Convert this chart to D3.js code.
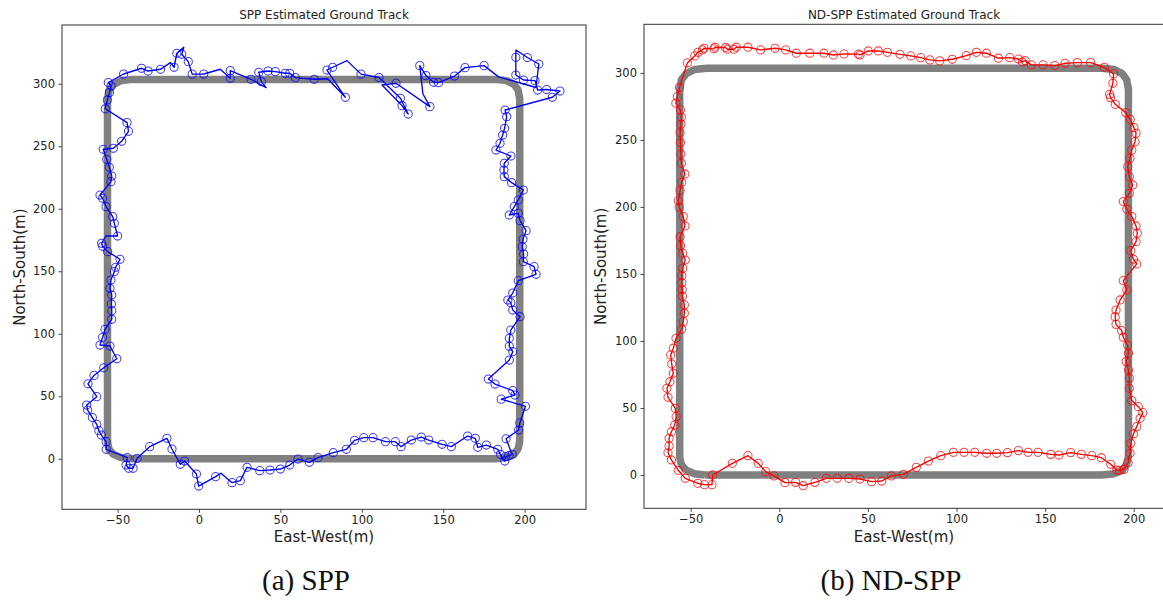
<!DOCTYPE html>
<html>
<head>
<meta charset="utf-8">
<script src="https://cdn.jsdelivr.net/npm/d3@7"></script>
<style>
  html, body { margin: 0; padding: 0; background: #fff; }
  svg { display: block; }
</style>
</head>
<body>
<script>
// ---------------- DATA ----------------
const xTicks = [-50, 0, 50, 100, 150, 200];
const yTicks = [0, 50, 100, 150, 200, 250, 300];

const titles = ["SPP Estimated Ground Track", "ND-SPP Estimated Ground Track"];
const captions = ["(a) SPP", "(b) ND-SPP"];
const xLabel = "East-West(m)";
const yLabel = "North-South(m)";

// reference (true) ground track, [east, north]
const truthTrack = [
  [-42, 0], [182, 0], [189, 1], [193.5, 3.5], [196, 8], [197, 14],
  [197, 288], [196, 295], [193.5, 299.5], [189, 302.5], [182, 303.5],
  [-41, 303.5], [-48, 302.5], [-52.5, 299.5], [-55.2, 295], [-56.2, 288],
  [-56.2, 13], [-55.2, 7.5], [-52.5, 3.5], [-48, 1], [-42, 0]
];

// SPP estimated track, [east, north, marker(1/0)]
const sppTrack = [
  [-44,0.9,1],[-44.8,-5,1],[-43.2,-7.6,1],[-40.5,-7.6,1],[-38,0.4,1],[-30.3,9.7,1],[-19.7,16.4,1],
  [-16.6,7.8,1],[-11.5,-4.4,1],[-8.8,-1.8,1],[-1.6,-12.2,1],[-0.2,-21.8,1],[10.2,-14.3,1],[13.5,-11.5,0],
  [20.3,-19.1,1],[25.4,-17.5,1],[29.5,-6.8,1],[37.3,-9.5,1],[43.6,-9,1],[50,-8.2,1],[55.7,-5,1],
  [60.8,-0.2,1],[67.8,-2.8,1],[73.1,0.9,1],[82.5,4.9,1],[90.5,7.6,1],[95.6,14.8,1],[101.2,16.9,1],
  [106.9,16.9,1],[114.5,13.7,1],[120.6,13.7,1],[124.1,9.7,1],[130.4,15,1],[136.5,17.4,1],[141.1,15,1],
  [149.3,11.6,1],[155,9.7,1],[165,18.2,1],[169.7,16.4,1],[171.2,9.2,1],[176.5,11,1],[183.5,7.6,1],
  [185.1,3.6,1],[187.8,-1.8,1],[188.2,1.7,1],[190.5,2.5,1],[192.3,3.6,1],[188.6,16,1],[196.3,23,1],
  [197,28.7,1],[200.5,42,1],[185.6,47.7,1],[194.1,51,1],[192.7,54.5,1],[181.8,59.8,1],[177.7,63.8,1],
  [190.6,79,1],[192.7,85.7,1],[190.6,90,1],[190.6,96.4,1],[191.5,103,1],[197.2,113.7,1],[192.7,119,1],
  [191.5,124.9,1],[189.7,127,1],[192.7,132.6,1],[196.1,142.5,1],[207,147.6,1],[205.8,153.7,1],
  [199.2,157.7,1],[199.4,163.8,1],[198.5,169.7,1],[199,175.6,1],[200.9,182.5,1],[197.2,190.5,1],
  [196.1,196.4,1],[190.6,195,1],[193.7,201.7,1],[196.1,207,1],[199.2,215,1],[192,220.9,1],[187.5,225.7,1],
  [187.3,231,1],[187.5,236.4,1],[191.6,242.2,1],[182.4,247,1],[184.9,252.4,1],[186.5,259,1],[187.7,264.4,1],
  [189,273.7,1],[188,279,1],
  [217,289.2,1],[221.7,294.2,1],[213.5,295.4,1],[208,295,1],[206.4,302.5,1],[199.3,303,1],[194.6,307,1],
  [194.6,321.2,1],[194.7,327,0],[201.7,321,1],[208.7,315.8,1],[207,297,0],[184,305.5,0],[175.1,314.5,1],
  [163.4,312.9,1],[157,306.2,1],[147.1,300.9,1],[144.1,301.2,1],[139.4,306.5,1],[135.6,314.5,1],
  [137.5,292,0],[141.8,281.7,1],[121,300.4,1],[112.4,299,0],[124.7,282.5,1],[128.5,275.8,1],
  [123.7,288.4,1],[110.6,305,1],[99.5,307.7,1],[90.9,318.5,0],[82.1,313.2,1],[78.6,311,1],[89.9,289.2,1],
  [79,304,0],[70.8,303.6,1],[59.2,304.9,1],[55.7,308.4,1],[53,308.4,1],[46.9,309.7,1],[42.4,310.2,1],
  [36.7,309.2,1],[38.3,301.7,1],[41.2,296.9,0],[31.9,303.6,1],[19.2,310.5,1],[19.2,304.4,1],[13.1,311.6,0],
  [2.9,307.8,1],[-4.2,307.7,1],[-6.6,317.7,1],[-10.6,323.6,1],[-9.4,329.2,0],[-13.6,324.4,1],[-15.3,313.2,1],
  [-17.6,316.9,0],[-23.6,311.6,1],[-31.3,310.2,1],[-35.3,312.4,1],[-46.3,307.8,1],[-55.7,301,1],[-54,298.2,1],
  [-55,293,1],[-56.3,287,1],[-57.6,280,1],[-44.2,268.9,1],[-43.3,262,1],[-47.5,254,1],[-52.6,248.4,1],
  [-58.8,247.6,1],[-56.7,239.6,1],[-55.1,233.2,1],[-53.6,226.2,1],[-54.1,221.7,1],[-60.8,211,1],
  [-59.2,208.4,1],[-57.1,201.7,1],[-53,193.7,1],[-52,188.4,1],[-50,178.2,1],[-57.2,178.2,0],[-59.8,172.4,1],
  [-59.2,170,1],[-56.1,165.7,1],[-48.5,159.6,1],[-51.2,153.2,1],[-52,149.7,1],[-54.1,143,1],[-54.7,136.4,1],
  [-53.6,131,1],[-53.8,123.8,1],[-53.6,118.5,1],[-53.6,111.6,1],[-57.7,103.6,1],[-59.2,97.2,1],[-60.8,91,1],
  [-54.7,90.2,1],[-50.5,80,1],[-58.5,72.8,1],[-64.5,66.7,1],[-68.2,60,1],[-62.8,49.7,1],[-69,43,1],
  [-68.4,39,1],[-65.5,33,1],[-62.8,27.5,1],[-61.5,22.5,1],[-60,19,1],[-57,13.7,1],[-57,7.6,1]
];

// ND-SPP estimated track, [east, north]
const ndsppTrack = [
  [-46,-6.2],[-42.2,-7.2],[-38,-7.2],[-37.6,0],[-26.5,8.7],[-17.7,14.4],[-11.9,8.7],[-7.7,2.5],[-3,-0.7],
  [3.2,-5.7],[9.2,-5.5],[13.5,-8],[20.1,-5.5],[26.5,-2.5],[32.7,-2.5],[39.3,-2.5],[45.5,-3],[52.1,-5],
  [57.8,-4.5],[63.2,-0.7],[70,0.5],[77.3,5.7],[84.1,10.4],[91.1,14.4],[98.2,16.9],[104.2,16.9],[110.3,16.9],
  [117,16.2],[122.7,16.2],[128.7,16.7],[134.9,18.2],[140.4,16.9],[146,16.9],[153.2,15.4],[157.8,14.9],
  [164.4,16.7],[170.4,15.4],[176.3,14.4],[181.7,12.9],[187,8],[190.4,3.7],[191.8,3.3],[194.5,4.2],
  [196.8,9.2],[197.9,16.2],[198.3,23.6],[199.8,30.6],[201.7,36.1],[203.6,42.3],[205.1,46.5],[202.6,51],
  [198.9,55.5],[197.5,64.7],[197.5,72.1],[197,78.4],[195.7,84.6],[197,90.8],[196.5,97],[194.1,102.8],
  [193.2,107.7],[190,112.4],[189.5,118.1],[190,123.1],[192.3,130.6],[196.1,138.1],[194.1,145],[201.7,157.5],
  [199.8,161],[198.3,167.4],[201.3,174.1],[202,180.4],[201.3,185.8],[198.9,192.8],[196.1,198.3],[194.1,204],
  [197.5,210.2],[199.4,216.4],[197.5,222.6],[196.6,230.1],[197.9,236.3],[198.9,242.5],[200.7,248.7],
  [201.3,255],[200.1,259.2],[198,265.4],[195.5,270.4],[189.6,276.6],[186.9,281.6],[186.4,284],[188.2,292.3],
  [188.6,299.3],[183.4,304.2],[175.7,307.7],[168.2,307.7],[161.2,307.2],[155.4,305.5],[148.8,306],[142.2,306],
  [138.7,309.2],[137.2,308.2],[134.9,310.4],[130,311.4],[123.6,311],[116.8,314.7],[111.2,315.4],[105.5,312.9],
  [97.6,310.2],[90.5,309],[84.9,309.7],[79.8,311.4],[74.2,312.7],[68.1,313.9],[61,315.4],[55.9,316.4],
  [50.2,316.4],[45.5,313.4],[44.6,314],[36.5,314.2],[30.5,313.4],[25.2,314.7],[17.2,314.7],[9.6,314.7],
  [3.6,317.2],[-2.4,318.4],[-10.5,317.2],[-17.7,319.2],[-24.3,319.2],[-25.6,317.7],[-29.3,317.7],[-30.3,319],
  [-36.3,319.2],[-36.9,318],[-42.5,318.4],[-43.4,317.2],[-45.9,315.4],[-47.7,312.7],[-51.9,307.5],
  [-56.3,289.3],[-57.5,282.3],[-58.4,277.4],[-55.8,272.4],[-55.3,266.9],[-55.5,261.9],[-56,255.5],
  [-55.8,248],[-55.5,239.5],[-55.3,232.6],[-53.3,224.6],[-55.1,218.4],[-56,212.2],[-57,204.7],[-56.5,199.8],
  [-54.2,192.8],[-53.2,185.8],[-56,177.8],[-55.7,171.1],[-54.5,165.4],[-53.1,160.4],[-54.5,154.2],
  [-55,148.7],[-55,143.4],[-54.8,138.4],[-54.7,133.4],[-53.6,126.9],[-53.6,120.7],[-54.2,114.4],
  [-55.1,108.7],[-58.3,102],[-59.8,94.6],[-61.3,89.6],[-60.7,82.8],[-59.8,75.9],[-61.7,69.6],[-63.4,64.7],
  [-62.8,58],[-58.7,49.8],[-58.2,43.5],[-59,37.3],[-60.9,32.3],[-62.2,27.4],[-62.2,21.6],[-62.8,16.6],
  [-60.9,11.2],[-57,3.5],[-53.1,-2.5]
];

// ---------------- LAYOUT ----------------
const W = 1163, H = 600;
const panels = [
  { px: [62, 586], py: [509.3, 25], xd: [-84.15, 237.7], yd: [-40.4, 347], track: sppTrack, color: "#0000ff",
    title: titles[0], caption: captions[0], capX: 306, axisMid: 324, yLabX: 25 },
  { px: [644, 1166], py: [508.3, 24.3], xd: [-76.35, 218.2], yd: [-24.85, 336.3], track: ndsppTrack, color: "#ff0000",
    title: titles[1], caption: captions[1], capX: 891, axisMid: 904, yLabX: 606 }
];

const svg = d3.select("body").append("svg")
  .attr("width", W).attr("height", H)
  .attr("viewBox", `0 0 ${W} ${H}`)
  .style("font-family", "'DejaVu Sans', sans-serif");

svg.append("rect").attr("width", W).attr("height", H).attr("fill", "#fff");

panels.forEach((p, i) => {
  const x = d3.scaleLinear().domain(p.xd).range(p.px);
  const y = d3.scaleLinear().domain(p.yd).range(p.py);
  const g = svg.append("g");

  const clipId = "clip" + i;
  svg.append("defs").append("clipPath").attr("id", clipId)
    .append("rect")
    .attr("x", p.px[0]).attr("y", p.py[1])
    .attr("width", p.px[1] - p.px[0]).attr("height", p.py[0] - p.py[1]);

  const plot = g.append("g").attr("clip-path", `url(#${clipId})`);

  // reference ground track
  plot.append("path")
    .datum(truthTrack)
    .attr("fill", "none")
    .attr("stroke", "#808080")
    .attr("stroke-width", 7.5)
    .attr("stroke-linejoin", "round")
    .attr("d", d3.line().x(d => x(d[0])).y(d => y(d[1])));

  // estimated track line
  plot.append("path")
    .datum(p.track)
    .attr("fill", "none")
    .attr("stroke", p.color)
    .attr("stroke-width", 1.35)
    .attr("stroke-linejoin", "round")
    .attr("d", d3.line().x(d => x(d[0])).y(d => y(d[1])).curve(d3.curveLinearClosed));

  // markers
  plot.selectAll("circle.m")
    .data(p.track.filter(d => d.length < 3 || d[2] === 1))
    .join("circle")
    .attr("class", "m")
    .attr("cx", d => x(d[0])).attr("cy", d => y(d[1]))
    .attr("r", 4.1)
    .attr("fill", "none")
    .attr("stroke", p.color)
    .attr("stroke-opacity", 0.75)
    .attr("stroke-width", 1.05);

  // axes
  const xAxis = d3.axisBottom(x).tickValues(xTicks).tickSize(3.5).tickPadding(3.5).tickFormat(d3.format("d"));
  const yAxis = d3.axisLeft(y).tickValues(yTicks).tickSize(3.5).tickPadding(3.5).tickFormat(d3.format("d"));

  const gx = g.append("g").attr("transform", `translate(0,${p.py[0]})`).call(xAxis);
  const gy = g.append("g").attr("transform", `translate(${p.px[0]},0)`).call(yAxis);
  [gx, gy].forEach(a => {
    a.select(".domain").remove();
    a.selectAll("line").attr("stroke", "#333").attr("stroke-width", 0.9);
    a.selectAll("text")
      .attr("fill", "#222")
      .style("font-family", "'DejaVu Sans', sans-serif")
      .style("font-size", "11.5px");
  });
  gx.selectAll("text").text(d => d < 0 ? "\u2212" + Math.abs(d) : d);

  // spines
  g.append("rect")
    .attr("x", p.px[0]).attr("y", p.py[1])
    .attr("width", p.px[1] - p.px[0]).attr("height", p.py[0] - p.py[1])
    .attr("fill", "none").attr("stroke", "#333").attr("stroke-width", 1);

  // title
  g.append("text")
    .attr("x", p.axisMid).attr("y", 18.5)
    .attr("text-anchor", "middle")
    .attr("fill", "#222")
    .style("font-size", "12px")
    .text(p.title);

  // x label
  g.append("text")
    .attr("x", p.axisMid).attr("y", 541.5)
    .attr("text-anchor", "middle")
    .attr("fill", "#222")
    .style("font-size", "15px")
    .text(xLabel);

  // y label
  const cy = (p.py[0] + p.py[1]) / 2;
  g.append("text")
    .attr("transform", `translate(${p.yLabX},${cy}) rotate(-90)`)
    .attr("text-anchor", "middle")
    .attr("fill", "#222")
    .style("font-size", "15px")
    .text(yLabel);

  // caption
  g.append("text")
    .attr("x", p.capX).attr("y", 590)
    .attr("text-anchor", "middle")
    .attr("fill", "#111")
    .style("font-family", "'Liberation Serif', 'Times New Roman', serif")
    .style("font-size", "29px")
    .text(p.caption);
});
</script>
</body>
</html>
